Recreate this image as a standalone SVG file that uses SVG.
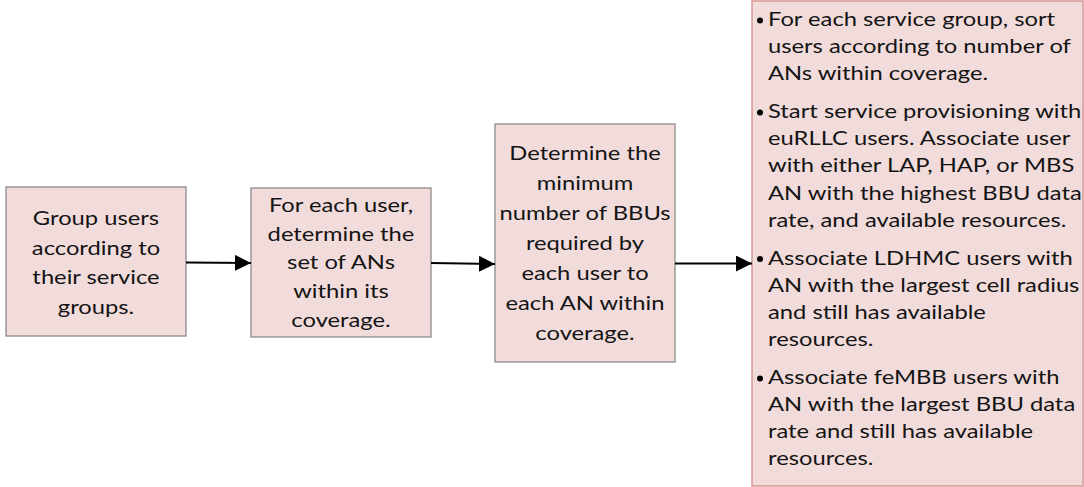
<svg xmlns="http://www.w3.org/2000/svg" width="1084" height="487" viewBox="0 0 1084 487">
<style>
.box{fill:#f2dcdb;stroke:#8c8c8c;stroke-width:1.3}
.box4{fill:#f2dcdb;stroke:#d99694;stroke-width:1.5}
text{font-family:Lato,"Open Sans","Liberation Sans",sans-serif;font-size:19px;fill:#141414}
.c{text-anchor:middle}
.conn{stroke:#000;stroke-width:2;fill:none}
</style>
<defs>
<marker id="ah" markerUnits="userSpaceOnUse" markerWidth="16" markerHeight="16" refX="16" refY="8" orient="auto">
<path d="M0,0 L16,8 L0,16 Z" fill="#000"/>
</marker>
</defs>
<rect width="1084" height="487" fill="#fff"/>
<g id="node1">
<rect class="box" x="6" y="187" width="180" height="149"/>
<g transform="translate(96,0) scale(1.25,1)">
<text class="c" x="0" y="225.5">Group users</text>
<text class="c" x="0" y="255">according to</text>
<text class="c" x="0" y="284.5">their service</text>
<text class="c" x="0" y="314">groups.</text>
</g>
</g>
<g id="node2">
<rect class="box" x="251" y="188" width="180" height="149"/>
<g transform="translate(341,0) scale(1.25,1)">
<text class="c" x="0" y="212">For each user,</text>
<text class="c" x="0" y="241">determine the</text>
<text class="c" x="0" y="269.5">set of ANs</text>
<text class="c" x="0" y="298">within its</text>
<text class="c" x="0" y="327">coverage.</text>
</g>
</g>
<g id="node3">
<rect class="box" x="495" y="124" width="180" height="238"/>
<g transform="translate(585,0) scale(1.25,1)">
<text class="c" x="0" y="160">Determine the</text>
<text class="c" x="0" y="190">minimum</text>
<text class="c" x="0" y="220">number of BBUs</text>
<text class="c" x="0" y="250">required by</text>
<text class="c" x="0" y="280">each user to</text>
<text class="c" x="0" y="310">each AN within</text>
<text class="c" x="0" y="340">coverage.</text>
</g>
</g>
<g id="node4">
<rect class="box4" x="752" y="1" width="331" height="485"/>
<g fill="#000">
<circle cx="760" cy="20.5" r="3"/>
<circle cx="760" cy="112.6" r="3"/>
<circle cx="760" cy="259.1" r="3"/>
<circle cx="760" cy="378.4" r="3"/>
</g>
<g transform="translate(768,0) scale(1.25,1)">
<text x="0" y="26">For each service group, sort</text>
<text x="0" y="53.2">users according to number of</text>
<text x="0" y="80.4">ANs within coverage.</text>
<text x="0" y="118.1">Start service provisioning with</text>
<text x="0" y="145.3">euRLLC users. Associate user</text>
<text x="0" y="172.5">with either LAP, HAP, or MBS</text>
<text x="0" y="199.7">AN with the highest BBU data</text>
<text x="0" y="226.9">rate, and available resources.</text>
<text x="0" y="264.6">Associate LDHMC users with</text>
<text x="0" y="291.8">AN with the largest cell radius</text>
<text x="0" y="319">and still has available</text>
<text x="0" y="346.2">resources.</text>
<text x="0" y="383.9">Associate feMBB users with</text>
<text x="0" y="411.1">AN with the largest BBU data</text>
<text x="0" y="438.3">rate and still has available</text>
<text x="0" y="465.5">resources.</text>
</g>
</g>
<g id="connectors">
<line class="conn" x1="186" y1="262.5" x2="251" y2="263" marker-end="url(#ah)"/>
<line class="conn" x1="431" y1="263" x2="495" y2="264" marker-end="url(#ah)"/>
<line class="conn" x1="675" y1="263.5" x2="752" y2="263.5" marker-end="url(#ah)"/>
</g>
</svg>
